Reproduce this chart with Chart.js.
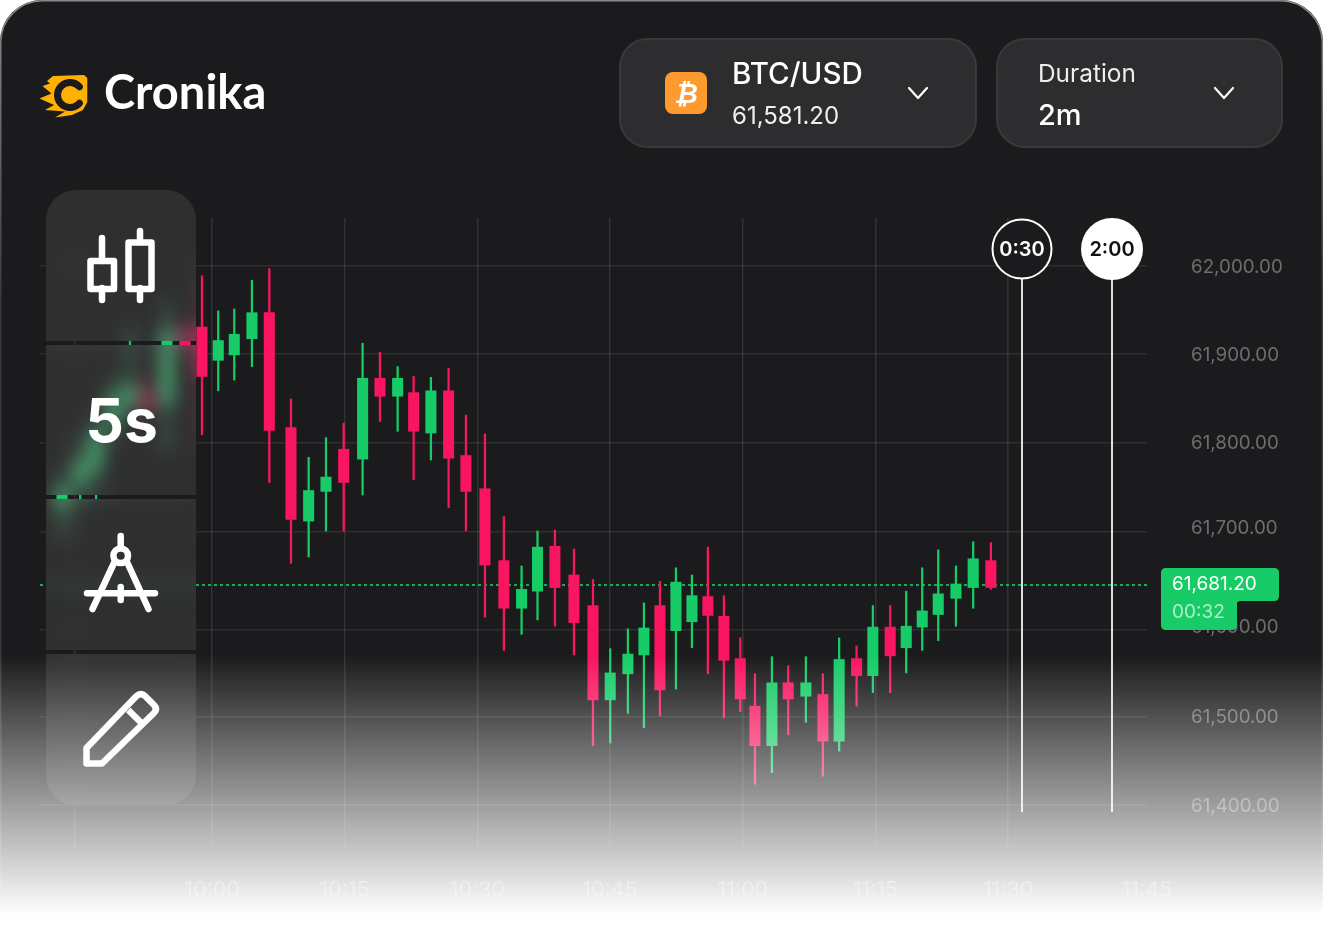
<!DOCTYPE html>
<html>
<head>
<meta charset="utf-8">
<style>html,body{margin:0;padding:0;background:#fff;overflow:hidden}canvas{display:block}</style>
<script src="https://cdn.jsdelivr.net/npm/chart.js@4/dist/chart.umd.min.js"></script>
</head>
<body>
<canvas id="c" width="1323" height="942"></canvas>
<script>
// minutes after 10:00
const times=[-16.95,-14.9,-13.1,-11.19,-9.27,-7.35,-5.09,-3.05,-1.13,0.71,2.52,4.52,6.48,8.93,10.93,12.89,14.89,17.03,18.99,20.99,22.8,24.75,26.75,28.71,30.86,33,35,36.8,38.77,40.92,43.07,45.02,47.02,48.83,50.64,52.45,54.26,56.06,57.87,59.72,61.38,63.3,65.14,67.14,69.06,70.9,72.87,74.71,76.67,78.48,80.29,82.1,84.1,86.05,88.05];
const opens=[61728,61756,61773,61823,61845,61860,61845,61929,61932,61895,61901,61919,61948,61820,61716,61749,61796,61785,61875,61855,61859,61814,61861,61789,61752,61672,61619,61638,61688,61656,61622,61517,61546,61567,61622,61594,61604,61632,61610,61563,61510,61466,61536,61521,61523,61471,61563,61544,61598,61575,61598,61612,61630,61642,61672];
const closes=[61754,61784,61817,61856,61868,61842,61929,61912,61877,61917,61924,61948,61817,61718,61750,61765,61759,61875,61855,61875,61816,61861,61786,61749,61667,61619,61640,61687,61642,61603,61517,61547,61568,61597,61528,61648,61633,61611,61561,61518,61466,61536,61518,61536,61471,61562,61544,61598,61566,61599,61616,61635,61646,61674,61642];
const highs=[61773,61806,61834,61879,61934,61884,61962,61942,61989,61950,61952,61984,61997,61852,61787,61809,61825,61914,61904,61888,61877,61876,61886,61834,61813,61721,61666,61705,61706,61685,61651,61574,61596,61625,61649,61664,61656,61687,61633,61586,61546,61565,61555,61565,61546,61586,61577,61622,61622,61638,61664,61684,61666,61693,61692];
const lows=[61695,61728,61740,61806,61829,61829,61795,61906,61812,61861,61873,61888,61759,61669,61676,61705,61705,61745,61827,61816,61762,61784,61731,61705,61609,61572,61590,61606,61599,61567,61466,61469,61502,61486,61499,61529,61575,61546,61497,61504,61423,61436,61478,61492,61432,61460,61510,61525,61525,61547,61572,61583,61599,61619,61640];
const priceTicks=[61999,61901,61802,61708,61598,61497,61399];
const priceTickLabels=['62,000.00','61,900.00','61,800.00','61,700.00','61,600.00','61,500.00','61,400.00'];
const gridPrices=[62000,61902,61803,61704,61595,61498,61400];
const timeTicks=[-15.5,0,15,30,45,60,75,90,105.7];
const timeTickLabels=['','10:00','10:15','10:30','10:45','11:00','11:15','11:30','11:45'];
const currentLevel=61645;
const expiryMinutes=[91.56,101.73];
const expiryLabels=['0:30','2:00'];
const GREEN='#17cc66',PINK='#f91560',CARD='#1b1b1d',FONT='Inter, sans-serif';

function rr(ctx,x,y,w,h,r){ctx.beginPath();ctx.roundRect(x,y,w,h,r);}
const sidebarPanels=[[46,190,150,151,[30,30,0,0]],[46,345,150,150,0],[46,499,150,151,0],[46,654,150,151,[0,0,30,30]]];

function drawIcons(ctx){
  ctx.save();
  ctx.strokeStyle='#fff';ctx.fillStyle='#fff';ctx.lineWidth=6.5;ctx.lineCap='round';ctx.lineJoin='round';
  // candle icon
  ctx.beginPath();
  ctx.moveTo(102,238);ctx.lineTo(102,261);ctx.moveTo(102,288);ctx.lineTo(102,300);
  ctx.moveTo(140,231);ctx.lineTo(140,242);ctx.moveTo(140,288);ctx.lineTo(140,300);
  ctx.stroke();
  ctx.lineJoin='round';
  ctx.strokeRect(90.5,261,23.5,28);ctx.strokeRect(128.5,242.5,23,46.5);
  // 5s
  ctx.font='700 60.5px '+FONT;ctx.textAlign='center';ctx.textBaseline='alphabetic';
  ctx.fillText('5s',121.5,442);
  // compass
  ctx.beginPath();
  ctx.moveTo(120.7,536);ctx.lineTo(120.7,546);
  ctx.moveTo(114,563);ctx.lineTo(92.5,609);
  ctx.moveTo(127.5,563);ctx.lineTo(148.5,609);
  ctx.moveTo(87,593.3);ctx.lineTo(155,593.3);
  ctx.moveTo(120.7,587);ctx.lineTo(120.7,600);
  ctx.stroke();
  ctx.beginPath();ctx.arc(120.7,555.7,7.3,0,Math.PI*2);ctx.stroke();
  // pencil
  ctx.lineCap='butt';ctx.lineJoin='round';
  ctx.beginPath();
  ctx.moveTo(86.5,763.5);ctx.lineTo(86.5,748);ctx.lineTo(136,696.5);ctx.quadraticCurveTo(141,692,145,696);
  ctx.lineTo(154,705);ctx.quadraticCurveTo(158,709,154,713);ctx.lineTo(102,763.5);ctx.closePath();
  ctx.stroke();
  ctx.beginPath();ctx.moveTo(128.3,710);ctx.lineTo(141.7,723.3);ctx.stroke();
  ctx.restore();
}

function drawHeader(ctx){
  ctx.save();
  // logo mark
  ctx.fillStyle='#ffb000';
  ctx.beginPath();
  const pts=[[53,76],[84,75],[87.3,78],[87.3,102],[83,110],[72,115],[55,117.5],[65,111.5],[45,110],[54,105],[39.5,98.5],[51.5,93.5],[42.5,86],[50,83.5],[47,81]];
  pts.forEach((p,i)=>i?ctx.lineTo(p[0],p[1]):ctx.moveTo(p[0],p[1]));
  ctx.closePath();ctx.fill();
  ctx.strokeStyle=CARD;ctx.lineWidth=7;ctx.lineCap='round';
  ctx.beginPath();ctx.arc(70,95,12.5,-0.72,0.72,true);ctx.stroke();
  // wordmark
  ctx.fillStyle='#fff';ctx.textBaseline='alphabetic';ctx.textAlign='left';
  ctx.font='700 47px Lato, sans-serif';
  ctx.fillText('Cronika',104,109);
  // pills
  [[619,38,358,110],[996,38,287,110]].forEach(p=>{
    rr(ctx,p[0]+1,p[1]+1,p[2]-2,p[3]-2,28);ctx.fillStyle='#2d2d2f';ctx.fill();
    ctx.strokeStyle='#39393b';ctx.lineWidth=2;ctx.stroke();
  });
  // coin
  rr(ctx,665,72,42,42,8);ctx.fillStyle='#ff9a2e';ctx.fill();
  ctx.fillStyle='#fff';ctx.font='italic 700 27px "DejaVu Sans", sans-serif';ctx.textAlign='center';
  ctx.fillText('₿',686,103);
  ctx.textAlign='left';
  ctx.font='500 29.5px '+FONT;ctx.fillText('BTC/USD',732,84);
  ctx.font='400 24px '+FONT;ctx.fillStyle='#eee';ctx.fillText('61,581.20',732,124);
  ctx.font='400 24.4px '+FONT;ctx.fillText('Duration',1038,82);
  ctx.font='500 29px '+FONT;ctx.fillStyle='#fff';ctx.fillText('2m',1038,125);
  // chevrons
  ctx.strokeStyle='#fff';ctx.lineWidth=2.2;ctx.lineCap='round';ctx.lineJoin='round';
  [918,1224].forEach(x=>{ctx.beginPath();ctx.moveTo(x-9,88);ctx.lineTo(x,98);ctx.lineTo(x+9,88);ctx.stroke();});
  ctx.restore();
}

const cardPlugin={
  id:'card',
  beforeDraw(chart){
    const ctx=chart.ctx;
    ctx.save();
    ctx.clearRect(0,0,1323,942);
    ctx.fillStyle='#fff';ctx.fillRect(0,0,1323,942);
    rr(ctx,0,0,1323,1000,42);ctx.fillStyle=CARD;ctx.fill();
    const g=ctx.createLinearGradient(0,0,0,300);g.addColorStop(0,'#8a8a8c');g.addColorStop(1,'#3a3a3c');
    rr(ctx,0.75,0.75,1321.5,1000,42);ctx.strokeStyle=g;ctx.lineWidth=1.5;ctx.stroke();
    ctx.restore();
  },
  beforeDatasetsDraw(chart){
    const ctx=chart.ctx,a=chart.chartArea,y=chart.scales.y.getPixelForValue(currentLevel);
    ctx.save();ctx.strokeStyle='#12d465';ctx.lineWidth=2;ctx.globalAlpha=.8;ctx.setLineDash([3,3]);
    ctx.beginPath();ctx.moveTo(a.left,Math.round(y));ctx.lineTo(a.right,Math.round(y));ctx.stroke();ctx.restore();
  },
  afterDatasetsDraw(chart){
    const ctx=chart.ctx,x=chart.scales.x;
    // sidebar with frosted glass over whatever is already drawn
    ctx.save();
    sidebarPanels.forEach(p=>{
      ctx.save();
      rr(ctx,p[0],p[1],p[2],p[3],p[4]);ctx.clip();
      ctx.filter='blur(9px) saturate(0.7)';
      ctx.drawImage(chart.canvas,0,0);
      ctx.filter='none';
      ctx.fillStyle='rgba(255,255,255,0.09)';ctx.fillRect(p[0],p[1],p[2],p[3]);
      ctx.restore();
    });
    ctx.restore();
    drawIcons(ctx);
    // expiry markers
    ctx.save();
    expiryMinutes.forEach((m,i)=>{
      const px=Math.round(x.getPixelForValue(m));
      ctx.strokeStyle='rgba(255,255,255,.85)';ctx.lineWidth=2;
      ctx.beginPath();ctx.moveTo(px,278);ctx.lineTo(px,812);ctx.stroke();
      ctx.strokeStyle='#fff';
      ctx.beginPath();ctx.arc(px,249,i?31:29.5,0,Math.PI*2);
      if(i){ctx.fillStyle='#fff';ctx.fill();}
      else{ctx.fillStyle=CARD;ctx.fill();ctx.stroke();}
      ctx.fillStyle=i?'#111':'#fff';ctx.font='600 20px '+FONT;ctx.textAlign='center';ctx.textBaseline='middle';
      ctx.fillText(expiryLabels[i],px,249.5);
    });
    ctx.restore();
  },
  afterDraw(chart){
    const ctx=chart.ctx;
    drawHeader(ctx);
    // price tag
    ctx.save();
    ctx.fillStyle='#17cc66';
    ctx.beginPath();
    ctx.moveTo(1166,568);ctx.lineTo(1274,568);ctx.quadraticCurveTo(1279,568,1279,573);
    ctx.lineTo(1279,596);ctx.quadraticCurveTo(1279,601,1274,601);ctx.lineTo(1240,601);
    ctx.quadraticCurveTo(1237,601,1237,604);ctx.lineTo(1237,625);ctx.quadraticCurveTo(1237,630,1232,630);
    ctx.lineTo(1166,630);ctx.quadraticCurveTo(1161,630,1161,625);ctx.lineTo(1161,573);ctx.quadraticCurveTo(1161,568,1166,568);
    ctx.fill();
    ctx.textAlign='left';ctx.textBaseline='middle';ctx.font='400 19px '+FONT;
    ctx.fillStyle='#fff';ctx.fillText('61,681.20',1172,584);
    ctx.fillStyle='rgba(255,255,255,.65)';ctx.fillText('00:32',1172,612);
    ctx.restore();
    // fade to white
    ctx.save();
    const g=ctx.createLinearGradient(0,655,0,915);
    g.addColorStop(0,'rgba(255,255,255,0)');g.addColorStop(1,'rgba(255,255,255,1)');
    ctx.fillStyle=g;ctx.fillRect(0,655,1323,287);
    ctx.restore();
  }
};

const colors=opens.map((o,i)=>closes[i]>=o?GREEN:PINK);
const priceFont={family:FONT,size:18.8,weight:'400'};
const timeFont={family:FONT,size:21.5,weight:'400'};
new Chart(document.getElementById('c'),{
  type:'bar',
  plugins:[cardPlugin],
  data:{datasets:[
    {label:'Range',grouped:false,order:2,barThickness:1.6,borderWidth:0,borderSkipped:false,backgroundColor:colors,
     data:times.map((t,i)=>({x:t,y:[lows[i],highs[i]]}))},
    {label:'Body',grouped:false,order:1,barThickness:10.4,borderWidth:0,borderSkipped:false,backgroundColor:colors,
     data:times.map((t,i)=>({x:t,y:[Math.min(opens[i],closes[i]),Math.max(opens[i],closes[i])]}))}
  ]},
  options:{
    responsive:false,animation:false,devicePixelRatio:1,
    layout:{padding:{left:40,top:218,right:0,bottom:0}},
    plugins:{legend:{display:false},tooltip:{enabled:false}},
    scales:{
      x:{type:'linear',min:-19.44,max:105.7,offset:false,
        afterBuildTicks(s){s.ticks=timeTicks.map(v=>({value:v}));},
        afterFit(s){s.height=94;},
        grid:{offset:false,drawTicks:false,lineWidth:1.5,color:c=>c.tick&&c.tick.value===105.7?'transparent':'rgba(255,255,255,0.1)'},
        border:{display:false},
        ticks:{autoSkip:false,maxRotation:0,padding:30,color:'#6e6e70',font:timeFont,
          callback(v,i){return timeTickLabels[i];}}},
      y:{type:'linear',position:'right',min:61352.1,max:62053.4,
        afterBuildTicks(s){s.ticks=priceTicks.map(v=>({value:v}));},
        afterFit(s){s.width=176;},
        grid:{display:false},border:{display:false},
        ticks:{padding:36,color:'#6e6e70',font:priceFont,callback(v,i){return priceTickLabels[i];}}},
      yGrid:{type:'linear',position:'left',min:61352.1,max:62053.4,
        afterBuildTicks(s){s.ticks=gridPrices.map(v=>({value:v}));},
        afterFit(s){s.width=0;},
        grid:{drawTicks:false,lineWidth:1.5,color:'rgba(255,255,255,0.09)'},border:{display:false},
        ticks:{display:false}}
    }
  }
});
</script>
</body>
</html>
